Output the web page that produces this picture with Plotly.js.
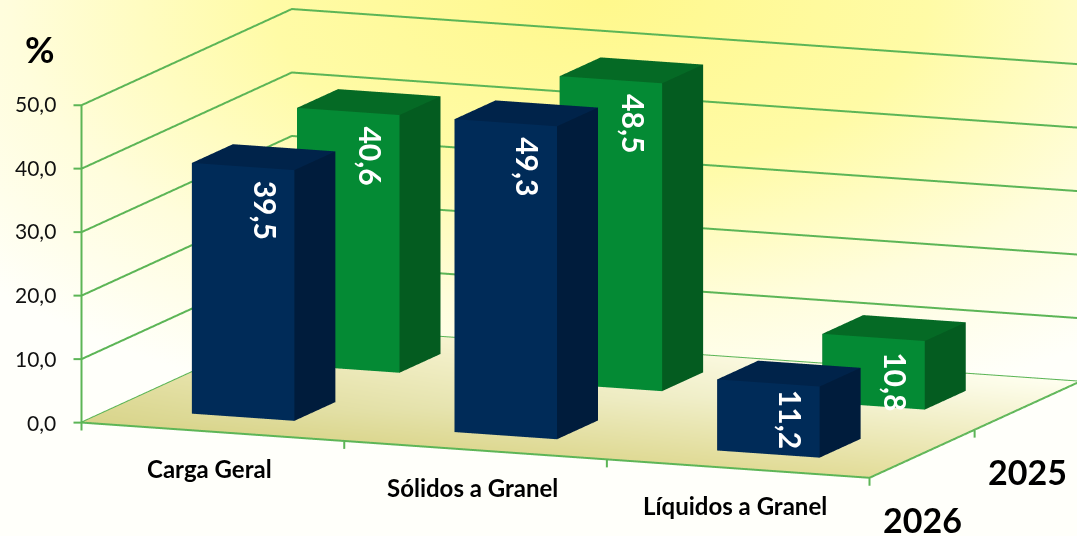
<!DOCTYPE html>
<html><head><meta charset="utf-8">
<script src="https://cdn.plot.ly/plotly-3.0.1.min.js"></script>
<style>
html,body{margin:0;padding:0;width:1077px;height:536px;overflow:hidden;
background:radial-gradient(ellipse 820px 430px at 600px 0px,#fff88c 0%,#fffba6 40%,#fffddc 72%,#fffffa 100%),#fffffa;}
#chart{width:1077px;height:536px;}
</style></head><body><div id="chart"></div>
<script>
const categories=['Carga Geral','Sólidos a Granel','Líquidos a Granel'];
const seriesNames=['2026','2025'];
const values2026=[39.5,49.3,11.2];
const values2025=[40.6,48.5,10.8];
const zTicks=[0,10,20,30,40,50];
const barColors=[{front:'#002b58',side:'#001c3c',top:'#00234a'},{front:'#048a34',side:'#045c20',top:'#056a25'}];
const barLo=0.30,barHi=0.69;
const green='#5cb556';
const fmt=v=>v.toFixed(1).replace('.',',');

function bar(ix,iy,v,c){
  const x=[ix+barLo,ix+barHi,ix+barHi,ix+barLo,ix+barLo,ix+barHi,ix+barHi,ix+barLo];
  const y=[iy+barLo,iy+barLo,iy+barHi,iy+barHi,iy+barLo,iy+barLo,iy+barHi,iy+barHi];
  const z=[0,0,0,0,v,v,v,v];
  const i=[0,0,1,1,4,4,2,2,3,3,0,0],j=[1,5,2,6,5,6,3,7,0,4,1,2],k=[5,4,6,5,6,7,7,6,4,7,2,3];
  const facecolor=[c.front,c.front,c.side,c.side,c.top,c.top,c.side,c.side,c.side,c.side,c.side,c.side];
  return {type:'mesh3d',x,y,z,i,j,k,facecolor,flatshading:true,hoverinfo:'skip',showscale:false,
    lighting:{ambient:1,diffuse:0,specular:0,roughness:1,fresnel:0},lightposition:{x:0,y:0,z:1000}};
}
function line(x,y,z){return {type:'scatter3d',mode:'lines',x,y,z,line:{color:green,width:4},hoverinfo:'skip',showlegend:false};}
const traces=[];
traces.push({type:'mesh3d',x:[0,3,3,0],y:[0,0,2,2],z:[0,0,0,0],i:[0,0],j:[1,2],k:[2,3],
  vertexcolor:['#d8d48a','#e2dc98','#fffff0','#f4f0c8'],hoverinfo:'skip',showscale:false,
  lighting:{ambient:1,diffuse:0,specular:0,roughness:1,fresnel:0}});
zTicks.forEach(t=>{
  traces.push(line([-0.027,0,0,3],[-0.0103,0,2,2],[t,t,t,t]));
});
traces.push(line([0,0],[0,0],[-1.25,50]));
traces.push(line([0,3,3],[0,0,2],[0,0,0]));
[1,2,3].forEach(v=>traces.push(line([v,v],[0,0],[-1.25,0])));
traces.push(line([3,3],[1,1],[-1.25,0]));
const allVals=[values2026,values2025];
for(let s=1;s>=0;s--) categories.forEach((c,ci)=>traces.push(bar(ci,s,allVals[s][ci],barColors[s])));

const ann=[];
zTicks.forEach(t=>ann.push({x:0,y:0,z:t,text:fmt(t),showarrow:false,xanchor:'right',xshift:-24,yshift:t/25,font:{family:'Lato',size:21,color:'#111'}}));
categories.forEach((c,ci)=>{
  allVals.forEach((vals,s)=>{
    const low=(s===0&&vals[ci]<20);
    ann.push({x:ci+barLo+0.282,y:s+barLo,z:vals[ci],text:fmt(vals[ci]),showarrow:false,
      textangle:90,yanchor:'top',yshift:low?-3:-11,font:{family:'Lato',size:30,color:'#fff',weight:700}});
  });
  ann.push({x:ci+0.5,y:0,z:0,text:'<b>'+c+'</b>',showarrow:false,yshift:-37,xshift:-3,font:{family:'Lato',size:24,color:'#000'}});
});
seriesNames.forEach((s,i)=>ann.push({x:3,y:i,z:0,text:'<b>'+s+'</b>',showarrow:false,yshift:-42,xshift:53,font:{family:'Lato',size:34,color:'#000'}}));

const ax={showgrid:false,zeroline:false,showspikes:false,showbackground:false,title:{text:''},showline:false,ticks:'',showticklabels:false};
const layout={width:1077,height:536,margin:{l:0,r:0,t:0,b:0},paper_bgcolor:'rgba(0,0,0,0)',showlegend:false,
 annotations:[{xref:'paper',yref:'paper',x:40/1077,y:1-49/536,xanchor:'center',yanchor:'middle',text:'<b>%</b>',showarrow:false,font:{family:'Lato',size:36,color:'#000'}}],
 scene:{domain:{x:[0,1],y:[0,1]},bgcolor:'rgba(0,0,0,0)',aspectmode:'manual',aspectratio:{x:3.21,y:2.184,z:1.247},
  camera:{projection:{type:'orthographic'},up:{x:0,y:0,z:1},center:{x:-0.138,y:-0.071,z:-0.082},eye:{x:0.501,y:-1.703,z:0.237}},
  xaxis:{...ax,range:[-0.03,3.02]},
  yaxis:{...ax,range:[-0.01,2.02]},
  zaxis:{...ax,range:[-1.3,50.5]},
  annotations:ann},
 separators:',.'};
Plotly.newPlot('chart',traces,layout,{displayModeBar:false});
</script></body></html>
